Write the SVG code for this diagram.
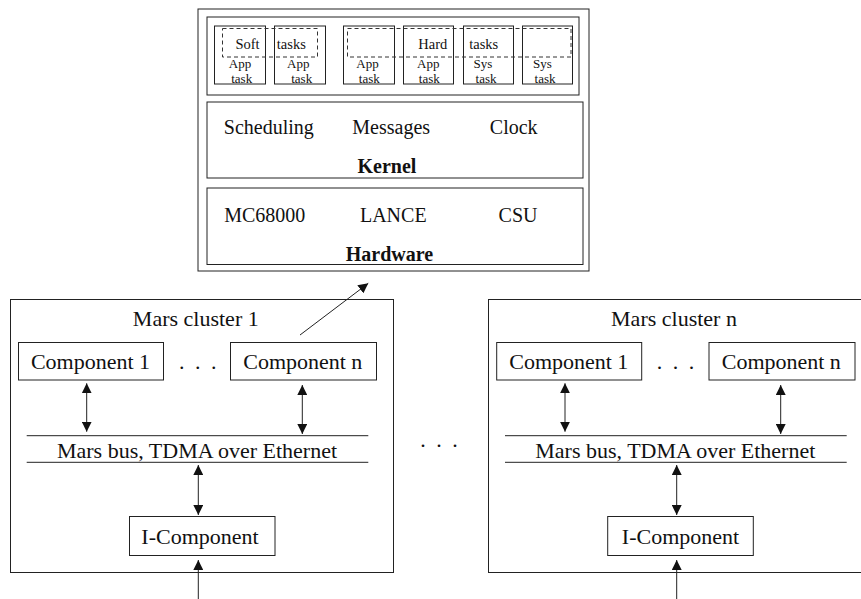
<svg xmlns="http://www.w3.org/2000/svg" width="861" height="599" viewBox="0 0 861 599">
<defs>
<style>
.b{fill:#fff;stroke:#222;stroke-width:1}
.d{fill:none;stroke:#333;stroke-width:1;stroke-dasharray:4 3}
.l{fill:none;stroke:#222;stroke-width:1}
.c{stroke:#222;stroke-width:1;fill:none}
text{font-family:"Liberation Serif","Times New Roman",serif;fill:#111;text-anchor:middle}
.s{font-size:14.5px}
.t{font-size:13px}
.m{font-size:20px}
.mb{font-size:20px;font-weight:bold}
.L{font-size:22px}
</style>
<marker id="ah" viewBox="0 0 10 10" refX="10" refY="5" markerWidth="10" markerHeight="10" markerUnits="userSpaceOnUse" orient="auto-start-reverse">
<path d="M0,0 L10,5 L0,10 Z" fill="#111"/>
</marker>
</defs>
<rect width="861" height="599" fill="#fff"/>

<g id="node-top">
<rect class="b" x="198" y="9" width="391" height="262"/>
<g id="node-tasks">
<rect class="b" x="207" y="17" width="372" height="78"/>
<rect class="b" x="214.5" y="26" width="51" height="58"/>
<rect class="b" x="274.5" y="26" width="51" height="58"/>
<rect class="b" x="343.5" y="26" width="51" height="58"/>
<rect class="b" x="403.5" y="26" width="50" height="58"/>
<rect class="b" x="463.5" y="26" width="50" height="58"/>
<rect class="b" x="522.5" y="26" width="50" height="58"/>
<rect class="d" x="222.5" y="28.5" width="95" height="28.5"/>
<rect class="d" x="347.5" y="28.5" width="223.5" height="28.5"/>
<text class="s" x="247.5" y="48.5">Soft</text>
<text class="s" x="291.3" y="48.5">tasks</text>
<text class="s" x="432.8" y="48.5">Hard</text>
<text class="s" x="483.7" y="48.5">tasks</text>
<text class="t" x="240" y="68">App</text><text class="t" x="241.7" y="82.5">task</text>
<text class="t" x="298.3" y="68">App</text><text class="t" x="301.7" y="82.5">task</text>
<text class="t" x="367.5" y="68">App</text><text class="t" x="369.3" y="82.5">task</text>
<text class="t" x="428.3" y="68">App</text><text class="t" x="429.3" y="82.5">task</text>
<text class="t" x="483" y="68">Sys</text><text class="t" x="486" y="82.5">task</text>
<text class="t" x="542.5" y="68">Sys</text><text class="t" x="545" y="83">task</text>
</g>
<g id="node-kernel">
<rect class="b" x="207" y="102" width="376" height="76"/>
<text class="m" x="268.8" y="134.3">Scheduling</text>
<text class="m" x="391.2" y="134.3">Messages</text>
<text class="m" x="513.7" y="134.3">Clock</text>
<text class="mb" x="387" y="173.3">Kernel</text>
</g>
<g id="node-hardware">
<rect class="b" x="207" y="188" width="376" height="76.5"/>
<text class="m" x="264.7" y="221.7">MC68000</text>
<text class="m" x="393.3" y="221.7">LANCE</text>
<text class="m" x="518" y="221.7">CSU</text>
<text class="mb" x="389.5" y="260.7">Hardware</text>
</g>
</g>

<g id="node-cluster1">
<rect class="b" x="10.5" y="299.5" width="383" height="273"/>
<text class="L" x="195.8" y="326">Mars cluster 1</text>
<g id="node-c1-comp1">
<rect class="b" x="18.5" y="342.5" width="145" height="37.5"/>
<text class="L" x="90.5" y="369.3">Component 1</text>
</g>
<text class="L" x="199" y="369.3" style="letter-spacing:2.5px">. . .</text>
<g id="node-c1-compn">
<rect class="b" x="230.5" y="342.5" width="146" height="37.5"/>
<text class="L" x="302.8" y="369.3">Component n</text>
</g>
<g id="node-c1-bus">
<line class="l" x1="26.7" y1="435.7" x2="368.3" y2="435.7"/>
<line class="l" x1="26.7" y1="462.3" x2="368.3" y2="462.3"/>
<text class="L" x="197" y="457.7">Mars bus, TDMA over Ethernet</text>
</g>
<g id="node-c1-icomp">
<rect class="b" x="129.5" y="516.5" width="145.5" height="39"/>
<text class="L" x="200" y="544.3">I-Component</text>
</g>
</g>

<text class="L" x="440.3" y="447.3" style="letter-spacing:2.5px">. . .</text>

<g id="node-clustern">
<rect class="b" x="488.5" y="299.5" width="380" height="273"/>
<text class="L" x="674" y="326">Mars cluster n</text>
<g id="node-cn-comp1">
<rect class="b" x="496.7" y="342.5" width="145" height="37.5"/>
<text class="L" x="568.8" y="369.3">Component 1</text>
</g>
<text class="L" x="676.7" y="369.3" style="letter-spacing:2.5px">. . .</text>
<g id="node-cn-compn">
<rect class="b" x="709" y="342.5" width="146" height="37.5"/>
<text class="L" x="781.3" y="369.3">Component n</text>
</g>
<g id="node-cn-bus">
<line class="l" x1="505" y1="435.7" x2="846.7" y2="435.7"/>
<line class="l" x1="505" y1="462.3" x2="846.7" y2="462.3"/>
<text class="L" x="675.3" y="457.7">Mars bus, TDMA over Ethernet</text>
</g>
<g id="node-cn-icomp">
<rect class="b" x="607.7" y="516.5" width="145.6" height="39"/>
<text class="L" x="680.5" y="544.3">I-Component</text>
</g>
</g>

<g id="connectors">
<line class="c" x1="86.7" y1="383.3" x2="86.7" y2="431.7" marker-start="url(#ah)" marker-end="url(#ah)"/>
<line class="c" x1="302.3" y1="385" x2="302.3" y2="434" marker-start="url(#ah)" marker-end="url(#ah)"/>
<line class="c" x1="198.3" y1="465" x2="198.3" y2="515" marker-start="url(#ah)" marker-end="url(#ah)"/>
<line class="c" x1="198.3" y1="599" x2="198.3" y2="560" marker-end="url(#ah)"/>
<line class="c" x1="300" y1="335" x2="368.3" y2="283.3" marker-end="url(#ah)"/>
<line class="c" x1="565" y1="383.3" x2="565" y2="431.7" marker-start="url(#ah)" marker-end="url(#ah)"/>
<line class="c" x1="780.7" y1="385" x2="780.7" y2="434" marker-start="url(#ah)" marker-end="url(#ah)"/>
<line class="c" x1="676.7" y1="465" x2="676.7" y2="515" marker-start="url(#ah)" marker-end="url(#ah)"/>
<line class="c" x1="676.7" y1="599" x2="676.7" y2="560" marker-end="url(#ah)"/>
</g>
</svg>
